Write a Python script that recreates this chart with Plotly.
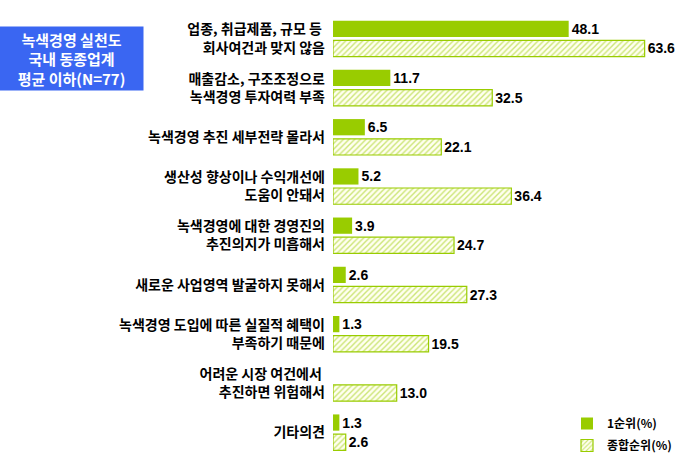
import plotly.graph_objects as go

categories = [
    "업종, 취급제품, 규모 등\u00a0<br>회사여건과 맞지 않음",
    "매출감소, 구조조정으로<br>녹색경영 투자여력 부족",
    "녹색경영 추진 세부전략 몰라서",
    "생산성 향상이나 수익개선에<br>도움이 안돼서",
    "녹색경영에 대한 경영진의<br>추진의지가 미흡해서",
    "새로운 사업영역 발굴하지 못해서",
    "녹색경영 도입에 따른 실질적 혜택이<br>부족하기 때문에",
    "어려운 시장 여건에서\u00a0<br>추진하면 위험해서",
    "기타의견",
]
first_rank = [48.1, 11.7, 6.5, 5.2, 3.9, 2.6, 1.3, None, 1.3]
overall_rank = [63.6, 32.5, 22.1, 36.4, 24.7, 27.3, 19.5, 13.0, 2.6]
series_names = ["1순위(%)", "종합순위(%)"]
box_title = "녹색경영 실천도<br>국내 동종업계<br>평균 이하(N=77)"

ypos = list(range(len(categories)))
GREEN = "#99CC00"
KFONT = "Noto Sans CJK KR"

W, H = 685, 475
ML, MR, MT, MB = 333, 12, 14, 18
PW = W - ML - MR
PH = H - MT - MB
PX_PER_UNIT = 4.9

fig = go.Figure()
fig.add_trace(go.Bar(
    y=ypos, x=first_rank, orientation="h", name=series_names[0],
    legendgroup="a",
    width=0.33, offset=-0.365,
    marker=dict(color=GREEN, line=dict(width=0)),
    text=[f"{v:.1f}" if v is not None else "" for v in first_rank],
    textposition="outside", cliponaxis=False, constraintext="none",
    textfont=dict(family="Liberation Sans, Arial", size=14, color="#000000", weight="bold"),
))
fig.add_trace(go.Bar(
    y=ypos, x=overall_rank, orientation="h", name=series_names[1],
    legendgroup="b",
    width=0.33, offset=0.035,
    marker=dict(color="#FFFFF0", line=dict(color=GREEN, width=1.2),
                pattern=dict(shape="/", fgcolor=GREEN, bgcolor="#FFFFF0", size=4, solidity=0.35)),
    text=[f"{v:.1f}" for v in overall_rank],
    textposition="outside", cliponaxis=False, constraintext="none",
    textfont=dict(family="Liberation Sans, Arial", size=14, color="#000000", weight="bold"),
))

fig.update_layout(
    width=W, height=H,
    margin=dict(l=ML, r=MR, t=MT, b=MB, autoexpand=False),
    paper_bgcolor="white", plot_bgcolor="white",
    barmode="overlay",
    xaxis=dict(range=[0, PW / PX_PER_UNIT], visible=False, fixedrange=True),
    yaxis=dict(range=[8.5, -0.5], tickvals=ypos, ticktext=categories,
               showgrid=False, zeroline=False, showline=False, ticks="",
               ticklabelstandoff=7, automargin=False,
               tickfont=dict(family=KFONT, size=14, color="#000000", weight="bold")),
    legend=dict(x=(567 - ML) / PW, y=1 - (409 - MT) / PH, xanchor="left", yanchor="top",
                bgcolor="rgba(0,0,0,0)", traceorder="grouped", tracegroupgap=3,
                font=dict(family=KFONT, size=12, color="#000000", weight="bold"),
                itemwidth=30),
    showlegend=True,
    font=dict(family=KFONT),
)

fig.add_annotation(text=box_title, xref="paper", yref="paper",
                   x=(71.5 - ML) / PW, y=1 - (58.5 - MT) / PH,
                   xanchor="center", yanchor="middle",
                   width=143, height=63, borderpad=0,
                   bgcolor="#3A66F2", showarrow=False, align="center", valign="middle",
                   font=dict(family=KFONT, size=15, color="white", weight="bold"))

fig.write_html("out.html")
